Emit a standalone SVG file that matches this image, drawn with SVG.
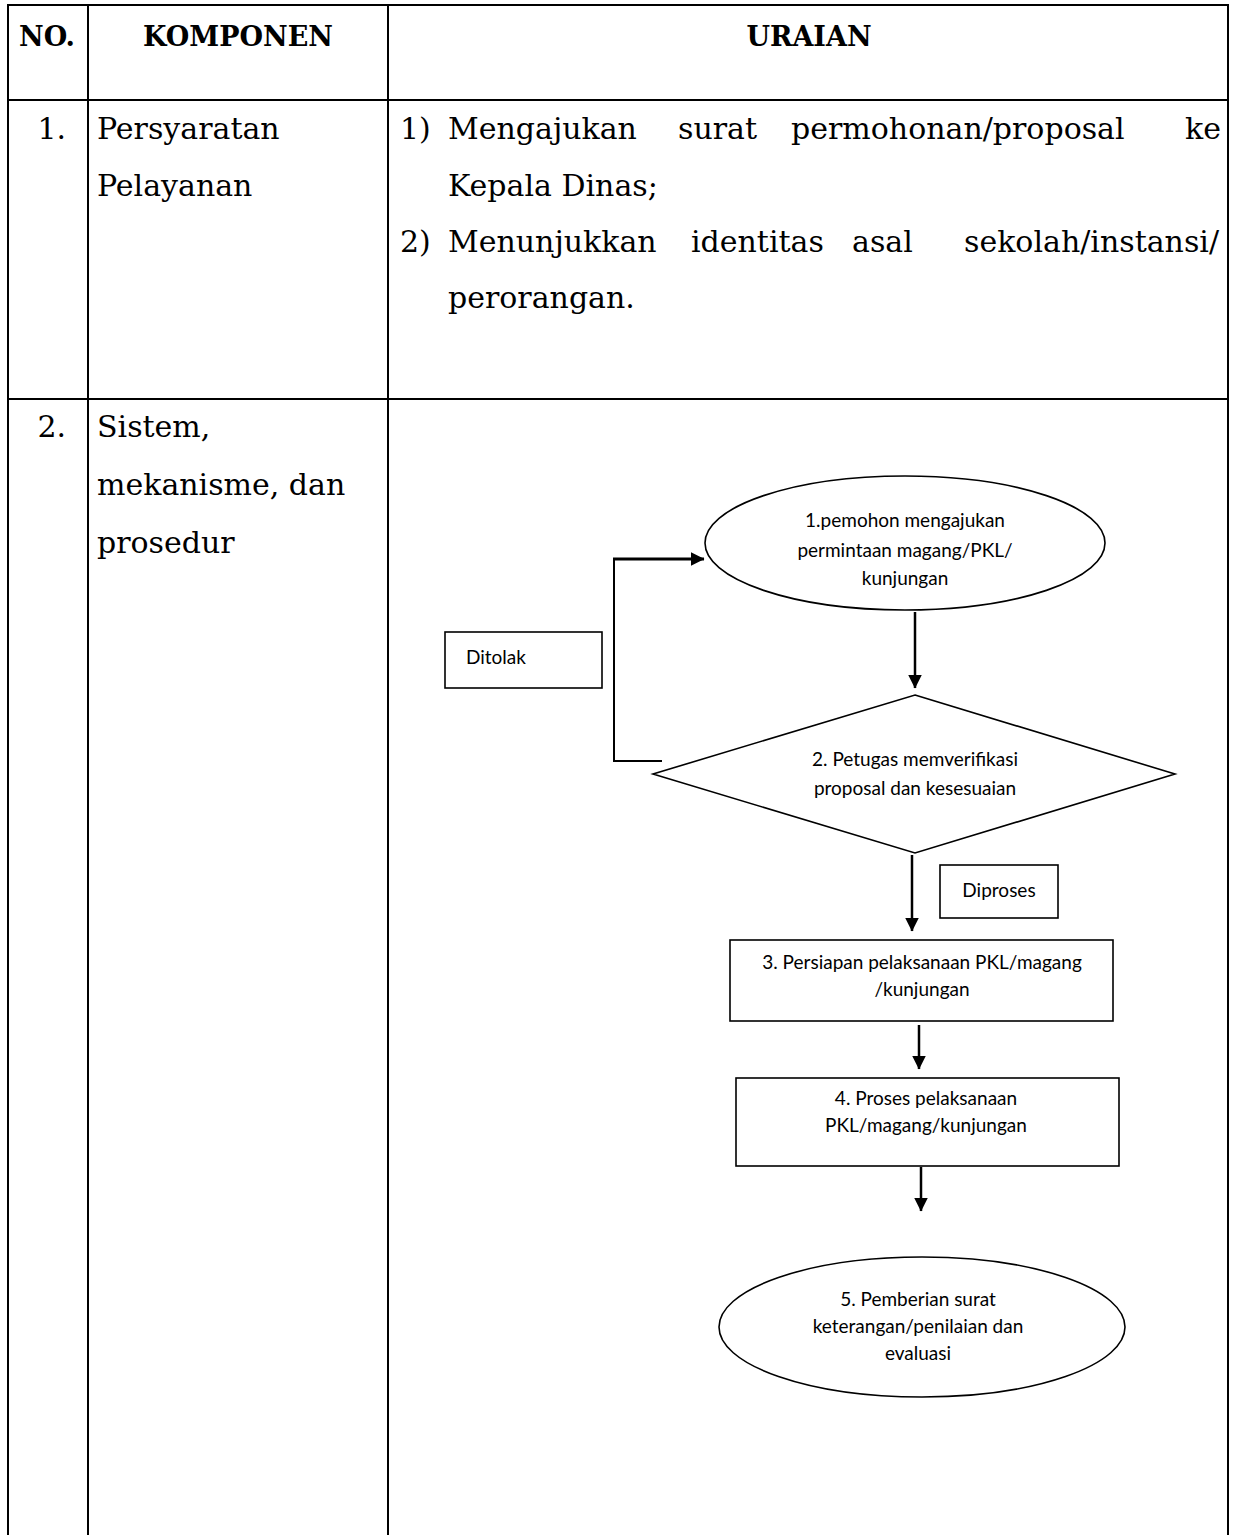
<svg xmlns="http://www.w3.org/2000/svg" width="1234" height="1535" viewBox="0 0 1234 1535">
<defs>
<style>
.grid{stroke:#000;stroke-width:2;fill:none}
.hd{font-family:"DejaVu Serif","Liberation Serif",serif;font-weight:bold;font-size:27px;fill:#000}
.bd{font-family:"DejaVu Serif","Liberation Serif",serif;font-size:30px;fill:#000}
.fc{font-family:Lato,"Open Sans",sans-serif;font-size:19px;fill:#000}
.shape{fill:#fff;stroke:#000;stroke-width:1.6}
.conn{stroke:#000;stroke-width:2.5;fill:none}
</style>
<marker id="ah" markerUnits="userSpaceOnUse" markerWidth="14" markerHeight="14" viewBox="0 0 14 14" refX="13.5" refY="7" orient="auto">
<path d="M0,0 L14,7 L0,14 Z" fill="#000"/>
</marker>
</defs>
<rect width="1234" height="1535" fill="#fff"/>
<g id="table">
<line class="grid" x1="7" y1="5" x2="1229" y2="5"/>
<line class="grid" x1="8" y1="100" x2="1228" y2="100"/>
<line class="grid" x1="8" y1="399" x2="1228" y2="399"/>
<line class="grid" x1="8" y1="4" x2="8" y2="1535"/>
<line class="grid" x1="88" y1="4" x2="88" y2="1535"/>
<line class="grid" x1="388" y1="4" x2="388" y2="1535"/>
<line class="grid" x1="1228" y1="4" x2="1228" y2="1535"/>
</g>
<g id="header">
<text class="hd" x="47" y="46" text-anchor="middle">NO.</text>
<text class="hd" x="238" y="46" text-anchor="middle">KOMPONEN</text>
<text class="hd" x="809" y="46" text-anchor="middle">URAIAN</text>
</g>
<g id="row1">
<text class="bd" x="66" y="139" text-anchor="end">1.</text>
<text class="bd" x="97" y="139">Persyaratan</text>
<text class="bd" x="97" y="196">Pelayanan</text>
<text class="bd" x="400" y="139">1)</text>
<text class="bd" y="139"><tspan x="448">Mengajukan</tspan><tspan x="678">surat</tspan><tspan x="791">permohonan/proposal</tspan><tspan x="1221" text-anchor="end">ke</tspan></text>
<text class="bd" x="448" y="196">Kepala Dinas;</text>
<text class="bd" x="400" y="252">2)</text>
<text class="bd" y="252"><tspan x="448">Menunjukkan</tspan><tspan x="691">identitas</tspan><tspan x="852">asal</tspan><tspan x="1219" text-anchor="end">sekolah/instansi/</tspan></text>
<text class="bd" x="448" y="308">perorangan.</text>
</g>
<g id="row2">
<text class="bd" x="66" y="437" text-anchor="end">2.</text>
<text class="bd" x="97" y="437">Sistem,</text>
<text class="bd" x="97" y="495">mekanisme, dan</text>
<text class="bd" x="97" y="553">prosedur</text>
</g>
<g id="connectors">
<polyline class="conn" points="662,761 614,761 614,559" style="stroke-width:2"/>
<line class="conn" x1="613" y1="559" x2="704" y2="559" marker-end="url(#ah)" style="stroke-width:3"/>
<line class="conn" x1="915" y1="612" x2="915" y2="688" marker-end="url(#ah)"/>
<line class="conn" x1="912" y1="855" x2="912" y2="931" marker-end="url(#ah)"/>
<line class="conn" x1="919" y1="1025" x2="919" y2="1069" marker-end="url(#ah)"/>
<line class="conn" x1="921" y1="1167" x2="921" y2="1211" marker-end="url(#ah)"/>
</g>
<g id="node1">
<ellipse class="shape" cx="905" cy="543" rx="200" ry="67"/>
<text class="fc" text-anchor="middle"><tspan x="905" y="527">1.pemohon mengajukan</tspan><tspan x="905" y="557">permintaan magang/PKL/</tspan><tspan x="905" y="585">kunjungan</tspan></text>
</g>
<g id="ditolak">
<rect class="shape" x="445" y="632" width="157" height="56"/>
<text class="fc" x="466" y="664">Ditolak</text>
</g>
<g id="node2">
<polygon class="shape" points="915,695 1175,774 915,853 653,774"/>
<text class="fc" text-anchor="middle"><tspan x="915" y="766">2. Petugas memverifikasi</tspan><tspan x="915" y="795">proposal dan kesesuaian</tspan></text>
</g>
<g id="diproses">
<rect class="shape" x="940" y="865" width="118" height="53"/>
<text class="fc" x="999" y="897" text-anchor="middle">Diproses</text>
</g>
<g id="node3">
<rect class="shape" x="730" y="940" width="383" height="81"/>
<text class="fc" text-anchor="middle"><tspan x="922" y="969">3. Persiapan pelaksanaan PKL/magang</tspan><tspan x="922" y="996">/kunjungan</tspan></text>
</g>
<g id="node4">
<rect class="shape" x="736" y="1078" width="383" height="88"/>
<text class="fc" text-anchor="middle"><tspan x="926" y="1105">4. Proses pelaksanaan</tspan><tspan x="926" y="1132">PKL/magang/kunjungan</tspan></text>
</g>
<g id="node5">
<ellipse class="shape" cx="922" cy="1327" rx="203" ry="70"/>
<text class="fc" text-anchor="middle"><tspan x="918" y="1306">5. Pemberian surat</tspan><tspan x="918" y="1333">keterangan/penilaian dan</tspan><tspan x="918" y="1360">evaluasi</tspan></text>
</g>
</svg>
